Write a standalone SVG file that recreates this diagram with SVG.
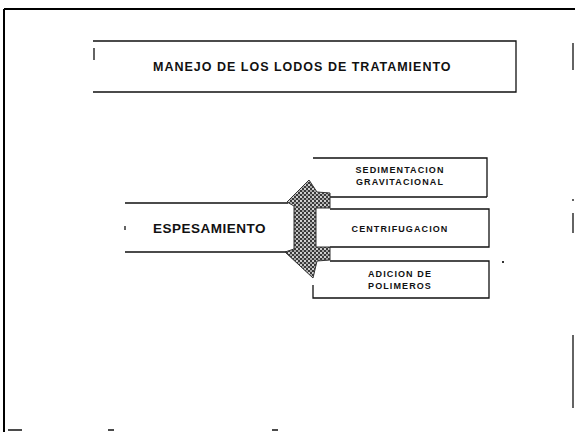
<svg xmlns="http://www.w3.org/2000/svg" width="575" height="432" viewBox="0 0 575 432">
<defs>
<pattern id="hatch" width="4" height="4" patternUnits="userSpaceOnUse">
<rect width="4" height="4" fill="#3a3a3a"/>
<rect x="0" y="0" width="2" height="2" fill="#d0d0d0"/>
<rect x="2" y="2" width="2" height="2" fill="#a8a8a8"/>
</pattern>
</defs>
<style>
.ln{stroke:#111;stroke-width:1.3;fill:none}
.fr{stroke:#000;stroke-width:2;fill:none}
.t{font-family:"Liberation Sans",Arial,sans-serif;font-weight:bold;fill:#111}
.tt{font-size:12.5px;letter-spacing:1px}
.te{font-size:13.5px;letter-spacing:0.5px}
.ts{font-size:9px;letter-spacing:1.1px;text-anchor:middle}
</style>
<rect width="575" height="432" fill="#fff"/>
<g id="frame">
<path class="fr" d="M4,9 H575 M4,9 V432"/>
<path class="ln" d="M573,43 V70 M573,199 V201 M573,213 V233 M573,335 V408 M8,430 H22 M108,430 H114 M272,430 H278"/>
<rect x="502" y="261" width="2" height="2" fill="#333"/>
</g>
<g id="title">
<path class="ln" d="M93,41 H516 V92 H93 M94,48 V60"/>
<text class="t tt" x="153" y="71">MANEJO DE LOS LODOS DE TRATAMIENTO</text>
</g>
<g id="espesamiento">
<path class="ln" d="M125,203 H288 M125,252 H286 M125,226 V230"/>
<text class="t te" x="153" y="233">ESPESAMIENTO</text>
</g>
<g id="sedimentacion">
<path class="ln" d="M313,158 H487 V197 M487,197 H330"/>
<text class="t ts" x="400" y="173">SEDIMENTACION</text>
<text class="t ts" x="400" y="185">GRAVITACIONAL</text>
</g>
<g id="centrifugacion">
<path class="ln" d="M330,209 H489 V247 H330"/>
<text class="t ts" x="400" y="232">CENTRIFUGACION</text>
</g>
<g id="adicion">
<path class="ln" d="M330,261 H489 V298 H313 V285"/>
<text class="t ts" x="400" y="277">ADICION DE</text>
<text class="t ts" x="400" y="289">POLIMEROS</text>
</g>
<g id="connectors">
<polygon points="309,180 317,192 330,193 330,208 316,208 316,247 330,247 330,260 317,261 313,278 285,252 294,249 294,206 287,202" fill="url(#hatch)" stroke="#333" stroke-width="1"/>
</g>
</svg>
